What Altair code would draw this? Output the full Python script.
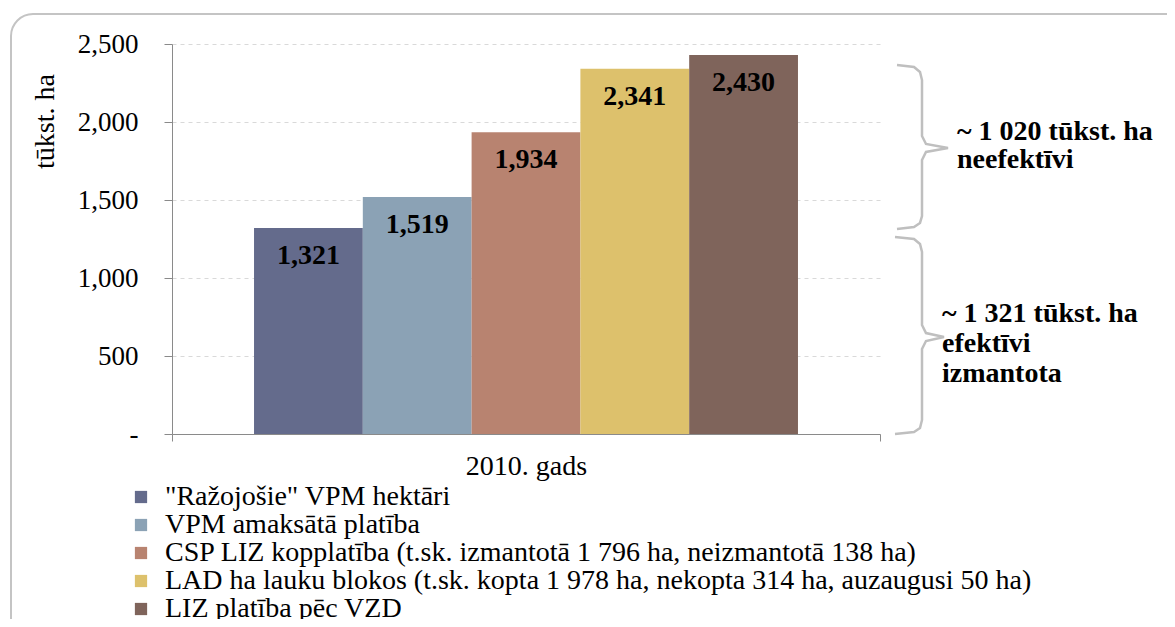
import altair as alt
import pandas as pd

# ---- data ----
year = "2010. gads"
series = [
    '"Ražojošie" VPM hektāri',
    'VPM amaksātā platība',
    'CSP LIZ kopplatība (t.sk. izmantotā 1 796 ha, neizmantotā 138 ha)',
    'LAD ha lauku blokos (t.sk. kopta 1 978 ha, nekopta 314 ha, auzaugusi 50 ha)',
    'LIZ platība pēc VZD',
]
values = [1321, 1519, 1934, 2341, 2430]
colors = ["#646b8c", "#8ba2b5", "#b88370", "#ddc16c", "#7f645b"]

# brace outlines (x in px from plot left, y in data units)
brace1_x = [725, 742, 748, 750, 750, 754, 776, 754, 750, 750, 748, 742, 725]
brace1_y = [2365, 2353, 2321, 2269, 1910, 1859, 1833, 1808, 1756, 1397, 1353, 1327, 1314]
brace2_x = [723, 742, 748, 750, 750, 754, 772, 754, 750, 750, 748, 742, 723]
brace2_y = [1263, 1250, 1218, 1167, 699, 647, 622, 596, 545, 90, 38, 13, 0]

note_text = ["~ 1 020 tūkst. ha", "neefektīvi", "~ 1 321 tūkst.  ha", "efektīvi", "izmantota"]
note_x = [785, 785, 770, 770, 770]
note_y = [1936, 1756, 769, 577, 385]

FONT = "Liberation Serif"
W, H = 708, 390

df = pd.DataFrame({"year": [year] * len(series), "series": series, "value": values})

rows = []
for i, (bx, by) in enumerate(zip(brace1_x, brace1_y)):
    rows.append({"brace": "b1", "idx": i, "bx": bx, "value": by})
for i, (bx, by) in enumerate(zip(brace2_x, brace2_y)):
    rows.append({"brace": "b2", "idx": i, "bx": bx, "value": by})
braces_df = pd.DataFrame(rows)
notes_df = pd.DataFrame({"txt": note_text, "bx": note_x, "value": note_y})

yscale = alt.Scale(domain=[0, 2500], nice=False)

base = alt.Chart(df).encode(
    x=alt.X(
        "year:N",
        scale=alt.Scale(paddingInner=0, paddingOuter=0),
        axis=alt.Axis(
            title=None, labelAngle=0, tickBand="extent", labelFont=FONT,
            labelFontSize=28, labelColor="#000", labelPadding=11, tickSize=7,
            domainColor="#8a8a8a", tickColor="#8a8a8a",
        ),
    ),
    xOffset=alt.XOffset("series:N", sort=series,
                        scale=alt.Scale(paddingInner=0, paddingOuter=0.754)),
    y=alt.Y(
        "value:Q", scale=yscale,
        axis=alt.Axis(
            title="tūkst. ha", titleFont=FONT, titleFontSize=28, titleFontWeight="normal",
            titleColor="#000", titleAngle=-90, titleX=-119, titleY=77,
            titleAlign="center", titleBaseline="alphabetic",
            values=[0, 500, 1000, 1500, 2000, 2500],
            labelExpr="datum.value == 0 ? '-\u00a0\u00a0\u00a0\u00a0\u00a0' : format(datum.value, ',')",
            labelFont=FONT, labelFontSize=27, labelColor="#000", labelPadding=26,
            tickSize=8, domainColor="#8a8a8a", tickColor="#8a8a8a",
            gridColor="#d9d9d9", gridDash=[4, 4], gridWidth=1,
        ),
    ),
)

bars = base.mark_bar().encode(
    color=alt.Color(
        "series:N", sort=series,
        scale=alt.Scale(domain=series, range=colors),
        legend=alt.Legend(
            orient="none", legendX=-45, legendY=439, title=None, padding=0,
            symbolType="square", symbolSize=150, symbolStrokeWidth=0,
            labelFont=FONT, labelFontSize=28, labelColor="#000",
            labelLimit=1200, rowPadding=-2, symbolOffset=0, labelOffset=10,
        ),
    )
)

labels = base.mark_text(
    dy=28, baseline="middle", align="center", font=FONT,
    fontSize=28, fontWeight="bold", color="#000",
).encode(text=alt.Text("value:Q", format=","))

bar_layer = alt.layer(bars, labels)

bx_scale = alt.Scale(domain=[0, W], nice=False, zero=False)

braces = alt.Chart(braces_df).mark_line(color="#bfbfbf", strokeWidth=2.5, clip=False).encode(
    x=alt.X("bx:Q", scale=bx_scale, axis=None),
    y=alt.Y("value:Q", scale=yscale),
    detail="brace:N",
    order="idx:Q",
)

notes = alt.Chart(notes_df).mark_text(
    align="left", baseline="middle", font=FONT, fontSize=28,
    fontWeight="bold", color="#000", clip=False,
).encode(
    x=alt.X("bx:Q", scale=bx_scale, axis=None),
    y=alt.Y("value:Q", scale=yscale),
    text="txt:N",
)

frame = alt.Chart(pd.DataFrame({"f": [0]})).mark_rect(
    fill=None, fillOpacity=0, stroke="#c4c4c4", strokeWidth=2, cornerRadius=22, clip=False,
).encode(
    x=alt.value(-161), x2=alt.value(1040),
    y=alt.value(-30), y2=alt.value(620),
)

chart = alt.layer(frame, bar_layer, braces, notes).resolve_scale(
    x="independent"
).properties(
    width=W, height=H,
    autosize=alt.AutoSizeParams(type="none"),
    padding={"left": 164, "top": 36, "right": 287, "bottom": 185},
).configure(
    background="white", font=FONT
).configure_view(
    stroke=None
).configure_legend(
    labelFont=FONT, labelFontSize=28
).configure_axis(
    labelFont=FONT, titleFont=FONT
)

chart.save("out.html", embed_options={"renderer": "svg", "actions": False})
